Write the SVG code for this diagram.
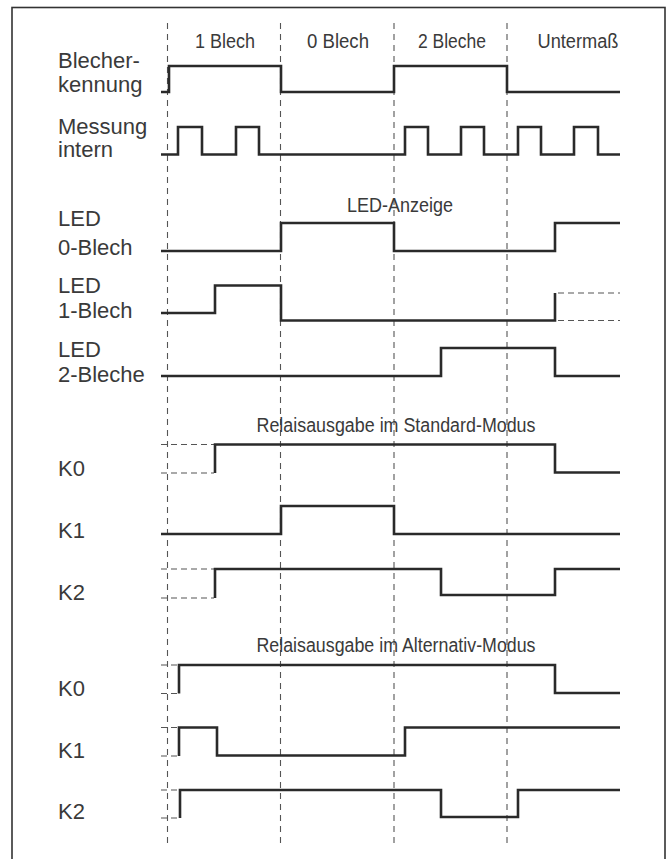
<svg xmlns="http://www.w3.org/2000/svg" width="672" height="859" viewBox="0 0 672 859">
<style>
.frame{fill:none;stroke:#333;stroke-width:1.6}
.grid{fill:none;stroke:#555;stroke-width:1.1;stroke-dasharray:6 5}
.sig{fill:none;stroke:#2a2a2a;stroke-width:2.6;stroke-linejoin:miter;stroke-linecap:butt}
.dash{fill:none;stroke:#555;stroke-width:1.1;stroke-dasharray:6 4}
.lbl{font-family:"Liberation Sans",Arial,sans-serif;font-size:22px;fill:#3a3a3a}
.hdr{font-family:"Liberation Sans",Arial,sans-serif;font-size:20px;fill:#3a3a3a;text-anchor:middle}
</style>
<rect width="672" height="859" fill="#fff"/>
<rect class="frame" x="12" y="7.5" width="653" height="880"/>
<g id="grid">
<path class="grid" d="M167.5,23V844M280.5,23V844M394,23V844M507,23V844"/>
</g>
<g id="headers">
<text class="hdr" x="225" y="47.5" textLength="60" lengthAdjust="spacingAndGlyphs">1 Blech</text>
<text class="hdr" x="338" y="47.5" textLength="62" lengthAdjust="spacingAndGlyphs">0 Blech</text>
<text class="hdr" x="452" y="47.5" textLength="68" lengthAdjust="spacingAndGlyphs">2 Bleche</text>
<text class="hdr" x="578" y="47.5" textLength="81" lengthAdjust="spacingAndGlyphs">Untermaß</text>
<text class="hdr" x="400" y="212" textLength="106" lengthAdjust="spacingAndGlyphs">LED-Anzeige</text>
<text class="hdr" x="396" y="432" textLength="279" lengthAdjust="spacingAndGlyphs">Relaisausgabe im Standard-Modus</text>
<text class="hdr" x="396" y="652" textLength="279" lengthAdjust="spacingAndGlyphs">Relaisausgabe im Alternativ-Modus</text>
</g>
<g id="blecherkennung">
<text class="lbl" x="58" y="68">Blecher-</text>
<text class="lbl" x="58" y="92">kennung</text>
<path class="sig" d="M161,92H169V66H281V92H394V66H507V92H620"/>
</g>
<g id="messung">
<text class="lbl" x="58" y="134">Messung</text>
<text class="lbl" x="58" y="157">intern</text>
<path class="sig" d="M161,154.5H178V127H202V154.5H236V127H259V154.5H405V127H428V154.5H461V127H484V154.5H518V127H541V154.5H574V127H598V154.5H620"/>
</g>
<g id="led0">
<text class="lbl" x="58" y="226">LED</text>
<text class="lbl" x="58" y="255">0-Blech</text>
<path class="sig" d="M161,251H281V223H394V251H555V223H620"/>
</g>
<g id="led1">
<text class="lbl" x="58" y="293">LED</text>
<text class="lbl" x="58" y="318">1-Blech</text>
<path class="sig" d="M161,313H215V285.5H281V320.5H555V293"/>
<path class="dash" d="M558,293H620M558,320.5H620"/>
</g>
<g id="led2">
<text class="lbl" x="58" y="357">LED</text>
<text class="lbl" x="58" y="382">2-Bleche</text>
<path class="sig" d="M161,376H441V348H555V376H620"/>
</g>
<g id="std-k0">
<text class="lbl" x="58" y="476">K0</text>
<path class="dash" d="M161,444.5H214M161,473H214"/>
<path class="sig" d="M215,473V444.5H555V472.5H620"/>
</g>
<g id="std-k1">
<text class="lbl" x="58" y="538">K1</text>
<path class="sig" d="M161,534H281V506H394V534H620"/>
</g>
<g id="std-k2">
<text class="lbl" x="58" y="600">K2</text>
<path class="dash" d="M161,569H214M161,598H214"/>
<path class="sig" d="M215,598V569H441V595H555V569H620"/>
</g>
<g id="alt-k0">
<text class="lbl" x="58" y="696">K0</text>
<path class="dash" d="M161,665H178M161,693.5H178"/>
<path class="sig" d="M179,693.5V665H555V693H620"/>
</g>
<g id="alt-k1">
<text class="lbl" x="58" y="758">K1</text>
<path class="dash" d="M161,727.5H178M161,756H178"/>
<path class="sig" d="M179,756V727.5H217V755.5H405V727.5H620"/>
</g>
<g id="alt-k2">
<text class="lbl" x="58" y="819">K2</text>
<path class="dash" d="M161,790H178M161,818H178"/>
<path class="sig" d="M180,818V790H441V817H518V790H620"/>
</g>
</svg>
